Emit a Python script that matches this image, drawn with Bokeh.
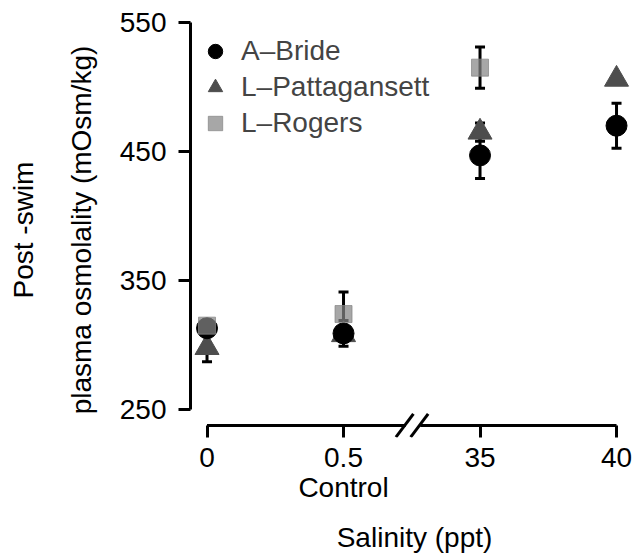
from bokeh.plotting import figure
from bokeh.models import (Range1d, FixedTicker, ColumnDataSource, Whisker,
                          TeeHead, Legend, LegendItem)
from bokeh.embed import file_html
from bokeh.resources import INLINE

# ---- data ----
x_pos = [0, 1, 2, 3]
x_labels = ["0", "0.5\nControl", "35", "40"]
y_ticks = [250, 350, 450, 550]

series_names = ["A\u2013Bride", "L\u2013Pattagansett", "L\u2013Rogers"]
bride_mean = [313, 309, 447, 470]
bride_err = [5, 10, 18, 17.5]
patt_mean = [298, 308, 465, 506]
patt_err = [11, 5, 7, 3]
rogers_mean = [315, 324, 515, None]
rogers_err = [3, 17, 16, None]

FONT = "Liberation Sans"

# ---- styling / layout constants ----
Y_LO, Y_HI = 228.3, 550
PX_PER_UNIT = 1.29
AXIS_Y = 250 - 16 / PX_PER_UNIT
BREAK_X = 1.5
FRAME_H = 415

p = figure(frame_width=448, frame_height=FRAME_H,
           min_border_left=190, min_border_right=4,
           min_border_top=22, min_border_bottom=118,
           x_range=Range1d(-0.121, 3.161), y_range=Range1d(Y_LO, Y_HI),
           output_backend="svg", toolbar_location=None, tools="")
p.outline_line_color = None
p.grid.visible = False


def src(xs, means, errs):
    rows = [(x, m, e) for x, m, e in zip(xs, means, errs) if m is not None]
    return ColumnDataSource(dict(
        x=[r[0] for r in rows], y=[r[1] for r in rows],
        upper=[r[1] + r[2] for r in rows], lower=[r[1] - r[2] for r in rows]))


s_b = src(x_pos, bride_mean, bride_err)
s_p = src(x_pos, patt_mean, patt_err)
s_r = src(x_pos, rogers_mean, rogers_err)

r_t = p.scatter("x", "y", source=s_p, marker="triangle", size=24,
                fill_color="#4d4d4d", line_color="#4d4d4d")
r_c = p.scatter("x", "y", source=s_b, marker="circle", size=21,
                fill_color="black", line_color="black")
r_s = p.scatter("x", "y", source=s_r, marker="square", size=17,
                fill_color="#858585", line_color="#858585", alpha=0.72)

for s in (s_p, s_b, s_r):
    w = Whisker(source=s, base="x", upper="upper", lower="lower",
                dimension="height", line_width=3, line_color="black",
                upper_head=TeeHead(size=10, line_width=3, line_color="black"),
                lower_head=TeeHead(size=10, line_width=3, line_color="black"))
    p.add_layout(w)

# x axis line with break marks
dx_gap_l, dx_gap_r = 0.045, 0.062
p.segment(x0=[x_pos[0], BREAK_X + dx_gap_r], y0=[AXIS_Y, AXIS_Y],
          x1=[BREAK_X - dx_gap_l, x_pos[-1]], y1=[AXIS_Y, AXIS_Y],
          line_width=3, line_color="black")
sl_dx, sl_dy = 0.064, 9.0
sl_c = [BREAK_X - 0.052, BREAK_X + 0.056]
p.segment(x0=[c - sl_dx for c in sl_c], y0=[AXIS_Y - sl_dy] * 2,
          x1=[c + sl_dx for c in sl_c], y1=[AXIS_Y + sl_dy] * 2,
          line_width=3, line_color="black")

# y axis
ya = p.yaxis[0]
ya.bounds = (250, 550)
ya.ticker = FixedTicker(ticks=y_ticks)
ya.axis_line_width = 3
ya.major_tick_line_width = 3
ya.major_tick_out = 12
ya.major_tick_in = 0
ya.minor_tick_line_color = None
ya.major_label_text_font = FONT
ya.major_label_text_font_size = "28px"
ya.major_label_text_color = "black"
ya.major_label_standoff = 12
ya.axis_label = "Post -swim\nplasma osmolality (mOsm/kg)"
ya.axis_label_text_font = FONT
ya.axis_label_text_font_size = "28px"
ya.axis_label_text_font_style = "normal"
ya.axis_label_text_color = "black"
ya.axis_label_text_line_height = 1.85
ya.axis_label_standoff = 20

# x axis
xa = p.xaxis[0]
xa.ticker = FixedTicker(ticks=x_pos)
xa.major_label_overrides = {x: lab for x, lab in zip(x_pos, x_labels)}
xa.axis_line_color = None
xa.major_tick_in = 12
xa.major_tick_out = 0
xa.major_tick_line_width = 3
xa.minor_tick_line_color = None
xa.major_label_text_font = FONT
xa.major_label_text_font_size = "28px"
xa.major_label_text_color = "black"
xa.major_label_text_line_height = 0.98
xa.major_label_standoff = 4
xa.axis_label = "Salinity (ppt)"
xa.axis_label_text_font = FONT
xa.axis_label_text_font_size = "28px"
xa.axis_label_text_font_style = "normal"
xa.axis_label_text_color = "black"
xa.axis_label_standoff = 16

ROW_H = 36
legend = Legend(items=[LegendItem(label=series_names[0], renderers=[r_c]),
                       LegendItem(label=series_names[1], renderers=[r_t]),
                       LegendItem(label=series_names[2], renderers=[r_s])],
                location=(6, FRAME_H - 11 - 3 * ROW_H), margin=0, padding=0,
                spacing=0, glyph_width=38, glyph_height=ROW_H,
                label_height=ROW_H, label_standoff=7, label_text_font=FONT,
                label_text_font_size="28px", border_line_color=None,
                background_fill_alpha=0)
p.add_layout(legend)

open("out.html", "w").write(file_html(p, INLINE))
